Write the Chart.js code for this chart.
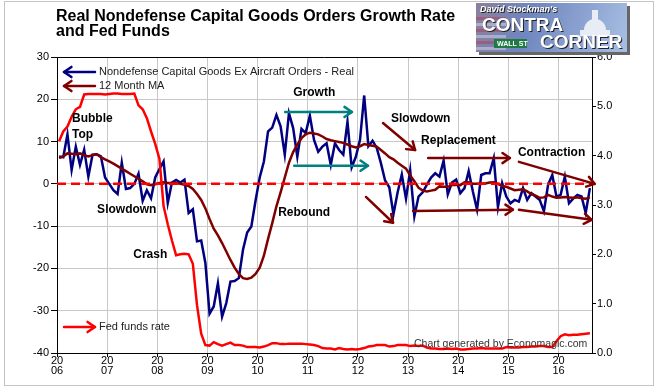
<!DOCTYPE html>
<html>
<head>
<meta charset="utf-8">
<script src="https://cdn.jsdelivr.net/npm/chart.js@4.4.1/dist/chart.umd.min.js"></script>
<style>
  html, body { margin: 0; padding: 0; background: #fff; }
  canvas { display: block; }
</style>
</head>
<body>
<canvas id="chart" width="658" height="390"></canvas>
<script>
// monthly, starting Jan 2006
const startYear = 2006;

// Nondefense capital goods ex aircraft orders, real, % y/y
const capGoods = [
  6.5, 6.3, 11.7, 3.3, 8.8, 4.5, 8.1, 1.7, 6.9, 7.0, 6.5, 1.5,
  0.0, -1.5, -2.4, 5.0, -1.2, -1.0, 0.0, 2.4, -4.0, -1.5, -3.4, 1.5,
  3.5, 5.3, -4.5, 0.3, 0.9, 0.3, 1.0, -6.9, -6.0, -13.6, -13.4, -18.7,
  -30.7, -29.0, -23.5, -31.4, -28.2, -23.1, -23.0, -22.3, -15.6, -11.5, -10.1, -4.0,
  1.5, 5.3, 12.4, 13.3, 16.3, 13.6, 6.9, 16.7, 13.2, 6.4, 13.0, 12.0,
  16.1, 10.4, 7.6, 8.8, 9.6, 4.5, 9.6, 8.0, 6.9, 14.7, 3.9, 6.4,
  10.4, 20.9, 8.9, 10.2, 8.5, 4.9, 0.8, -0.8, -7.2, -2.0, 2.2, -3.5,
  3.2, -7.7, -3.0, -2.0, -0.2, 1.5, 2.5, 1.7, 5.5, -2.5, 0.3, 1.0,
  -2.2, -1.0, 3.0, -1.8, -6.1, 2.1, 2.5, 2.5, 6.1, -5.5, 0.2, -3.0,
  -4.6, -3.8, -4.2, -1.0, -3.8, -2.2, -3.0, -3.8, -6.5, -0.2, 2.1, -3.0,
  -2.6, 1.7, -4.6, -3.5, -2.6, -3.0, -6.9, -1.0
];

// 12 month moving average
const capGoodsMA = [
  6.1, 6.5, 7.2, 7.1, 7.0, 7.2, 6.8, 6.5, 6.8, 7.0, 6.3, 5.8,
  5.3, 4.8, 4.2, 3.6, 3.0, 2.4, 1.8, 1.2, 0.6, -0.1, -0.3, -0.1,
  0.2, 0.4, 0.2, 0.2, 0.2, 0.0, -0.2, -0.5, -1.2, -2.4, -3.8, -5.8,
  -8.3, -10.6, -12.2, -14.0, -16.0, -18.0, -19.8, -21.3, -22.3, -22.5, -22.2, -21.3,
  -19.8, -17.0, -13.0, -9.3, -5.3, -2.0, 1.5, 5.0, 7.5, 9.3, 10.8, 11.7,
  12.1, 11.9, 11.7, 11.2, 10.6, 10.3, 10.1, 9.9, 9.7, 9.3, 8.9, 8.6,
  8.9, 9.4, 9.2, 9.0, 8.8, 8.0, 7.2, 6.3, 5.8, 5.0, 4.3, 3.6,
  2.0, 0.6, -0.9, -1.6, -1.8, -1.6, -1.4, -0.6, -0.7, -0.7, -0.3, -0.2,
  -0.3, 0.4, 0.4, 0.0, 0.0, 0.1, 0.1, 0.3, 0.4, 0.0, -0.5, -0.7,
  -1.1, -1.5, -1.4, -1.3, -1.8, -2.4, -2.8, -3.3, -3.2, -2.6, -3.0, -3.3,
  -3.2, -3.1, -3.2, -3.3, -3.2, -3.4, -3.5, -3.2
];

// fed funds rate, % (right axis)
const fedFunds = [
  4.29, 4.49, 4.59, 4.79, 4.94, 4.99, 5.24, 5.25, 5.25, 5.25, 5.25, 5.24,
  5.25, 5.26, 5.26, 5.25, 5.25, 5.25, 5.26, 5.02, 4.94, 4.76, 4.49, 4.24,
  3.94, 2.98, 2.61, 2.28, 1.98, 2.00, 2.01, 2.00, 1.81, 0.97, 0.39, 0.16,
  0.15, 0.22, 0.18, 0.15, 0.18, 0.21, 0.16, 0.16, 0.15, 0.12, 0.12, 0.12,
  0.11, 0.13, 0.16, 0.20, 0.20, 0.18, 0.18, 0.19, 0.19, 0.19, 0.19, 0.18,
  0.17, 0.16, 0.14, 0.10, 0.09, 0.09, 0.07, 0.10, 0.08, 0.07, 0.08, 0.07,
  0.08, 0.10, 0.13, 0.14, 0.16, 0.16, 0.16, 0.13, 0.14, 0.16, 0.16, 0.16,
  0.14, 0.15, 0.14, 0.15, 0.11, 0.09, 0.09, 0.08, 0.08, 0.09, 0.08, 0.09,
  0.07, 0.07, 0.08, 0.09, 0.09, 0.10, 0.09, 0.09, 0.09, 0.09, 0.09, 0.12,
  0.11, 0.11, 0.11, 0.12, 0.12, 0.13, 0.13, 0.14, 0.14, 0.12, 0.12, 0.24,
  0.34, 0.38, 0.36, 0.37, 0.37, 0.38, 0.39, 0.40
];

const yearLabels = ["06", "07", "08", "09", "10", "11", "12", "13", "14", "15", "16"];

const NAVY = "#000080";
const MAROON = "#800000";
const RED = "#ff0000";
const TEAL = "#008080";
const FONT = "Arial, 'Liberation Sans', sans-serif";

// text notes and arrows, in chart units (year, left-axis value)
const notes = [
  { text: "Bubble", x: 2006.30, y: 15.4 },
  { text: "Top", x: 2006.30, y: 11.6 },
  { text: "Slowdown", x: 2006.80, y: -6.1 },
  { text: "Crash", x: 2007.52, y: -16.8 },
  { text: "Rebound", x: 2010.41, y: -6.9 },
  { text: "Growth", x: 2010.71, y: 21.5 },
  { text: "Slowdown", x: 2012.66, y: 15.4 },
  { text: "Replacement", x: 2013.26, y: 10.2 },
  { text: "Contraction", x: 2015.19, y: 7.3 },
];
const arrows = [
  { from: [2010.55, 17.0], to: [2011.88, 17.0], color: TEAL },
  { from: [2010.73, 4.3], to: [2012.20, 4.3], color: TEAL },
  { from: [2012.50, 14.4], to: [2013.14, 8.0], color: MAROON },
  { from: [2012.16, -3.1], to: [2012.70, -9.2], color: MAROON },
  { from: [2013.40, 6.1], to: [2015.03, 6.1], color: MAROON },
  { from: [2013.10, -6.4], to: [2015.09, -6.1], color: MAROON },
  { from: [2015.21, 5.2], to: [2016.72, 0.0], color: MAROON },
  { from: [2015.21, -6.1], to: [2016.66, -8.5], color: MAROON },
];

const toPoints = (arr) => arr.map((v, i) => ({ x: startYear + (i + 0.5) / 12, y: v }));

function arrowHead(ctx, x1, y1, x2, y2, len) {
  const a = Math.atan2(y2 - y1, x2 - x1);
  ctx.beginPath();
  ctx.moveTo(x2 - len * Math.cos(a - 0.6), y2 - len * Math.sin(a - 0.6));
  ctx.lineTo(x2, y2);
  ctx.lineTo(x2 - len * Math.cos(a + 0.6), y2 - len * Math.sin(a + 0.6));
  ctx.stroke();
}

function drawArrow(ctx, x1, y1, x2, y2, color, width) {
  ctx.save();
  ctx.strokeStyle = color;
  ctx.lineWidth = width;
  ctx.lineCap = "round";
  ctx.lineJoin = "round";
  ctx.beginPath();
  ctx.moveTo(x1, y1);
  ctx.lineTo(x2, y2);
  ctx.stroke();
  arrowHead(ctx, x1, y1, x2, y2, 9);
  ctx.restore();
}

function drawLogo(ctx) {
  const x = 476, y = 3, w = 151, h = 49;
  ctx.save();
  ctx.fillStyle = "#666";
  ctx.fillRect(x + 3, y + 3, w, h);
  const g = ctx.createLinearGradient(x, y, x + w, y + h);
  g.addColorStop(0, "#8c7f9c");
  g.addColorStop(0.35, "#6f86bf");
  g.addColorStop(1, "#a8bfe3");
  ctx.fillStyle = g;
  ctx.fillRect(x, y, w, h);
  // flag stripes on the left
  ctx.globalAlpha = 0.35;
  for (let i = 0; i < 6; i++) {
    ctx.fillStyle = i % 2 ? "#ffffff" : "#c02030";
    ctx.fillRect(x, y + 14 + i * 6, 30, 3);
  }
  ctx.globalAlpha = 1;
  // dome
  ctx.fillStyle = "#e8ecf4";
  ctx.beginPath();
  ctx.arc(595, 30, 11, Math.PI, 0);
  ctx.fill();
  ctx.fillRect(592, 10, 6, 10);
  ctx.fillRect(580, 30, 30, 6);
  // street sign
  ctx.fillStyle = "#1f7a44";
  ctx.fillRect(494, 39, 33, 9);
  ctx.fillStyle = "#fff";
  ctx.font = "bold 7px " + FONT;
  ctx.textBaseline = "middle";
  ctx.fillText("WALL ST", 497, 44);
  ctx.shadowColor = "#222";
  ctx.shadowOffsetX = 1;
  ctx.shadowOffsetY = 1;
  ctx.font = "bold italic 9px " + FONT;
  ctx.fillText("David Stockman's", 480, 10);
  ctx.font = "bold 19px " + FONT;
  ctx.fillText("CONTRA", 482, 26);
  ctx.fillText("CORNER", 540, 43);
  ctx.restore();
}

const decor = {
  id: "decor",
  afterDatasetsDraw(chart) {
    const { ctx, chartArea: a, scales } = chart;
    const y0 = scales.y.getPixelForValue(0);
    ctx.save();
    ctx.strokeStyle = RED;
    ctx.lineWidth = 2.5;
    ctx.setLineDash([9, 5]);
    ctx.beginPath();
    ctx.moveTo(a.left, y0);
    ctx.lineTo(a.right, y0);
    ctx.stroke();
    ctx.restore();
  },
  afterDraw(chart) {
    const { ctx, chartArea: a, scales } = chart;
    const px = (v) => scales.x.getPixelForValue(v);
    const py = (v) => scales.y.getPixelForValue(v);
    ctx.save();

    // outer frame
    ctx.strokeStyle = "#c4c4c4";
    ctx.lineWidth = 1;
    ctx.strokeRect(4.5, 1.5, 649, 384);

    // plot frame top
    ctx.strokeStyle = "#000";
    ctx.beginPath();
    ctx.moveTo(a.left, a.top + 0.5);
    ctx.lineTo(a.right, a.top + 0.5);
    ctx.stroke();

    // title
    ctx.fillStyle = "#000";
    ctx.font = "bold 16px " + FONT;
    ctx.textBaseline = "alphabetic";
    ctx.textAlign = "left";
    ctx.fillText("Real Nondefense Capital Goods Orders Growth Rate", 56, 21);
    ctx.fillText("and Fed Funds", 56, 36);

    // legend
    ctx.font = "11px " + FONT;
    ctx.textBaseline = "middle";
    ctx.fillStyle = "#222";
    drawArrow(ctx, a.left + 38, 72, a.left + 7, 72, NAVY, 2.5);
    ctx.fillText("Nondefense Capital Goods Ex Aircraft Orders - Real", a.left + 42, 72);
    drawArrow(ctx, a.left + 38, 86, a.left + 7, 86, MAROON, 2.5);
    ctx.fillText("12 Month MA", a.left + 42, 86);
    drawArrow(ctx, a.left + 7, 327, a.left + 38, 327, RED, 2.5);
    ctx.fillText("Fed funds rate", a.left + 42, 327);

    ctx.font = "10.5px " + FONT;
    ctx.fillStyle = "#333";
    ctx.fillText("Chart generated by Economagic.com", 414, 344);

    // notes
    ctx.font = "bold 12px " + FONT;
    ctx.fillStyle = "#000";
    notes.forEach((n) => ctx.fillText(n.text, px(n.x), py(n.y)));
    arrows.forEach((r) => {
      drawArrow(ctx, px(r.from[0]), py(r.from[1]), px(r.to[0]), py(r.to[1]), r.color, 2.5);
    });

    drawLogo(ctx);
    ctx.restore();
  },
};

const tickFont = { family: FONT, size: 11 };

new Chart(document.getElementById("chart"), {
  type: "line",
  data: {
    datasets: [
      {
        label: "Nondefense Capital Goods Ex Aircraft Orders - Real",
        data: toPoints(capGoods),
        borderColor: NAVY,
        borderWidth: 2.5,
        yAxisID: "y",
        order: 3,
      },
      {
        label: "12 Month MA",
        data: toPoints(capGoodsMA),
        borderColor: MAROON,
        borderWidth: 2.5,
        yAxisID: "y",
        order: 2,
      },
      {
        label: "Fed funds rate",
        data: toPoints(fedFunds),
        borderColor: RED,
        borderWidth: 2.5,
        yAxisID: "y2",
        order: 1,
      },
    ],
  },
  options: {
    responsive: false,
    animation: false,
    devicePixelRatio: 1,
    elements: { point: { radius: 0 }, line: { tension: 0, fill: false } },
    layout: { padding: { top: 57, left: 0, right: 0, bottom: 0 } },
    plugins: { legend: { display: false }, tooltip: { enabled: false }, title: { display: false } },
    scales: {
      x: {
        type: "linear",
        position: "bottom",
        min: 2006,
        max: 2016.667,
        afterFit: (s) => { s.height = 37; },
        ticks: {
          stepSize: 1,
          includeBounds: false,
          autoSkip: false,
          maxRotation: 0,
          padding: -1,
          color: "#000",
          font: { ...tickFont, lineHeight: 0.9 },
          callback: (v) => {
            const k = Math.round(v - startYear);
            return Math.abs(v - Math.round(v)) < 1e-6 && yearLabels[k] ? ["20", yearLabels[k]] : "";
          },
        },
        grid: { color: "#c8c8c8", tickColor: "#000", tickLength: 4 },
        border: { color: "#000" },
      },
      y: {
        position: "left",
        min: -40,
        max: 30,
        afterFit: (s) => { s.width = 57; },
        ticks: { stepSize: 10, padding: 2, color: "#000", font: tickFont, callback: (v) => String(v) },
        grid: { color: "#c8c8c8", tickColor: "#000", tickLength: 6 },
        border: { color: "#000" },
      },
      y2: {
        position: "right",
        min: 0,
        max: 6,
        afterFit: (s) => { s.width = 66; },
        ticks: { stepSize: 1, padding: 1, color: "#000", font: tickFont, callback: (v) => v.toFixed(1) },
        grid: { drawOnChartArea: false, tickColor: "#000", tickLength: 4 },
        border: { color: "#000" },
      },
    },
  },
  plugins: [decor],
});
</script>
</body>
</html>
